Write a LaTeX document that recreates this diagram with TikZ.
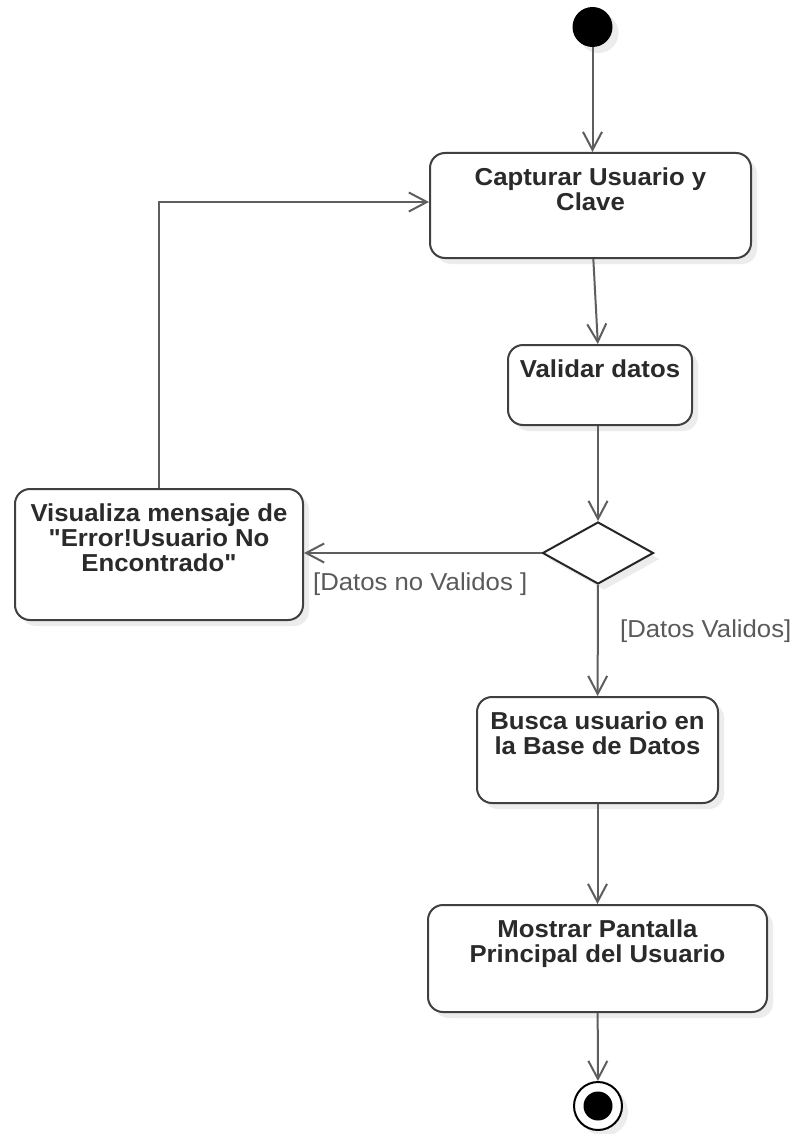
\documentclass[tikz,border=0pt]{standalone}
\usepackage{fontspec}
\setmainfont[FakeStretch=1.05,Ligatures=TeXOff]{Liberation Sans}
\usetikzlibrary{arrows.meta,shapes.geometric,shadows}

\definecolor{edgegray}{HTML}{5E5E5E}
\definecolor{boxline}{HTML}{404040}
\definecolor{txt}{HTML}{2A2A2A}
\definecolor{lbltxt}{HTML}{5A5A5A}
\definecolor{shadowgray}{HTML}{ECECEC}

\begin{document}
\begin{tikzpicture}[x=1pt,y=-1pt,
  softshadow/.style={drop shadow={shadow xshift=6pt,shadow yshift=-6pt,fill=shadowgray,opacity=1}},
  action/.style={draw=boxline,line width=2pt,rounded corners=15pt,fill=white,inner sep=0pt,softshadow},
  actiontext/.style={anchor=north,inner sep=0pt,align=center,text=txt,font=\fontsize{24.5}{25}\selectfont\bfseries},
  flow/.style={draw=edgegray,line width=2pt,-{Straight Barb[length=18pt,width=19pt]}},
  guard/.style={inner sep=0pt,anchor=base west,text=lbltxt,font=\fontsize{24.5}{25}\selectfont},
]
% canvas
\fill[white] (0,0) rectangle (794,1134);
\useasboundingbox (0,0) rectangle (794,1134);

% initial and final states
\node[circle,fill=black,minimum size=40pt,inner sep=0pt,softshadow] (start) at (592.5,27) {};
\node[circle,draw=black,line width=2pt,fill=white,minimum size=48pt,inner sep=0pt,softshadow] (end) at (598,1106) {};
\node[circle,fill=black,minimum size=29pt,inner sep=0pt] (endin) at (end) {};

% actions
\node[action,minimum width=321pt,minimum height=105pt] (cap) at (590.5,205.5) {};
\node[actiontext] (cap-t) at ([yshift=-16pt]cap.north) {Capturar Usuario y\\Clave};

\node[action,minimum width=184pt,minimum height=80pt] (val) at (600,385) {};
\node[actiontext] (val-t) at ([yshift=-16pt]val.north) {Validar datos};

\node[action,minimum width=288pt,minimum height=131pt] (vis) at (159,554.5) {};
\node[actiontext] (vis-t) at ([yshift=-16pt]vis.north) {Visualiza mensaje de\\"Error!Usuario No\\Encontrado"};

\node[action,minimum width=241pt,minimum height=106pt] (busca) at (597.5,750) {};
\node[actiontext] (busca-t) at ([yshift=-16pt]busca.north) {Busca usuario en\\la Base de Datos};

\node[action,minimum width=339pt,minimum height=107pt] (most) at (597.5,958.5) {};
\node[actiontext] (most-t) at ([yshift=-16pt]most.north) {Mostrar Pantalla\\Principal del Usuario};

% decision
\node[diamond,draw=black!85,line width=2pt,fill=white,minimum width=111pt,minimum height=62pt,inner sep=0pt,softshadow] (dec) at (598,553) {};

% control flow
\draw[flow] (start) -- (start |- cap.north);
\draw[flow] (cap) -- (val);
\draw[flow] (dec |- val.south) -- (dec.north);
\draw[flow] (dec.west) -- (dec.west -| vis.east);
\draw[flow] (vis.north) |- ([yshift=3.5pt]cap.west);
\draw[flow] (dec) -- (busca);
\draw[flow] (busca) -- (most);
\draw[flow] (most) -- (end);

% guards
\node[guard] (g-no) at (313,590) {[Datos no Validos ]};
\node[guard] (g-ok) at (620,637) {[Datos Validos]};
\end{tikzpicture}
\end{document}
